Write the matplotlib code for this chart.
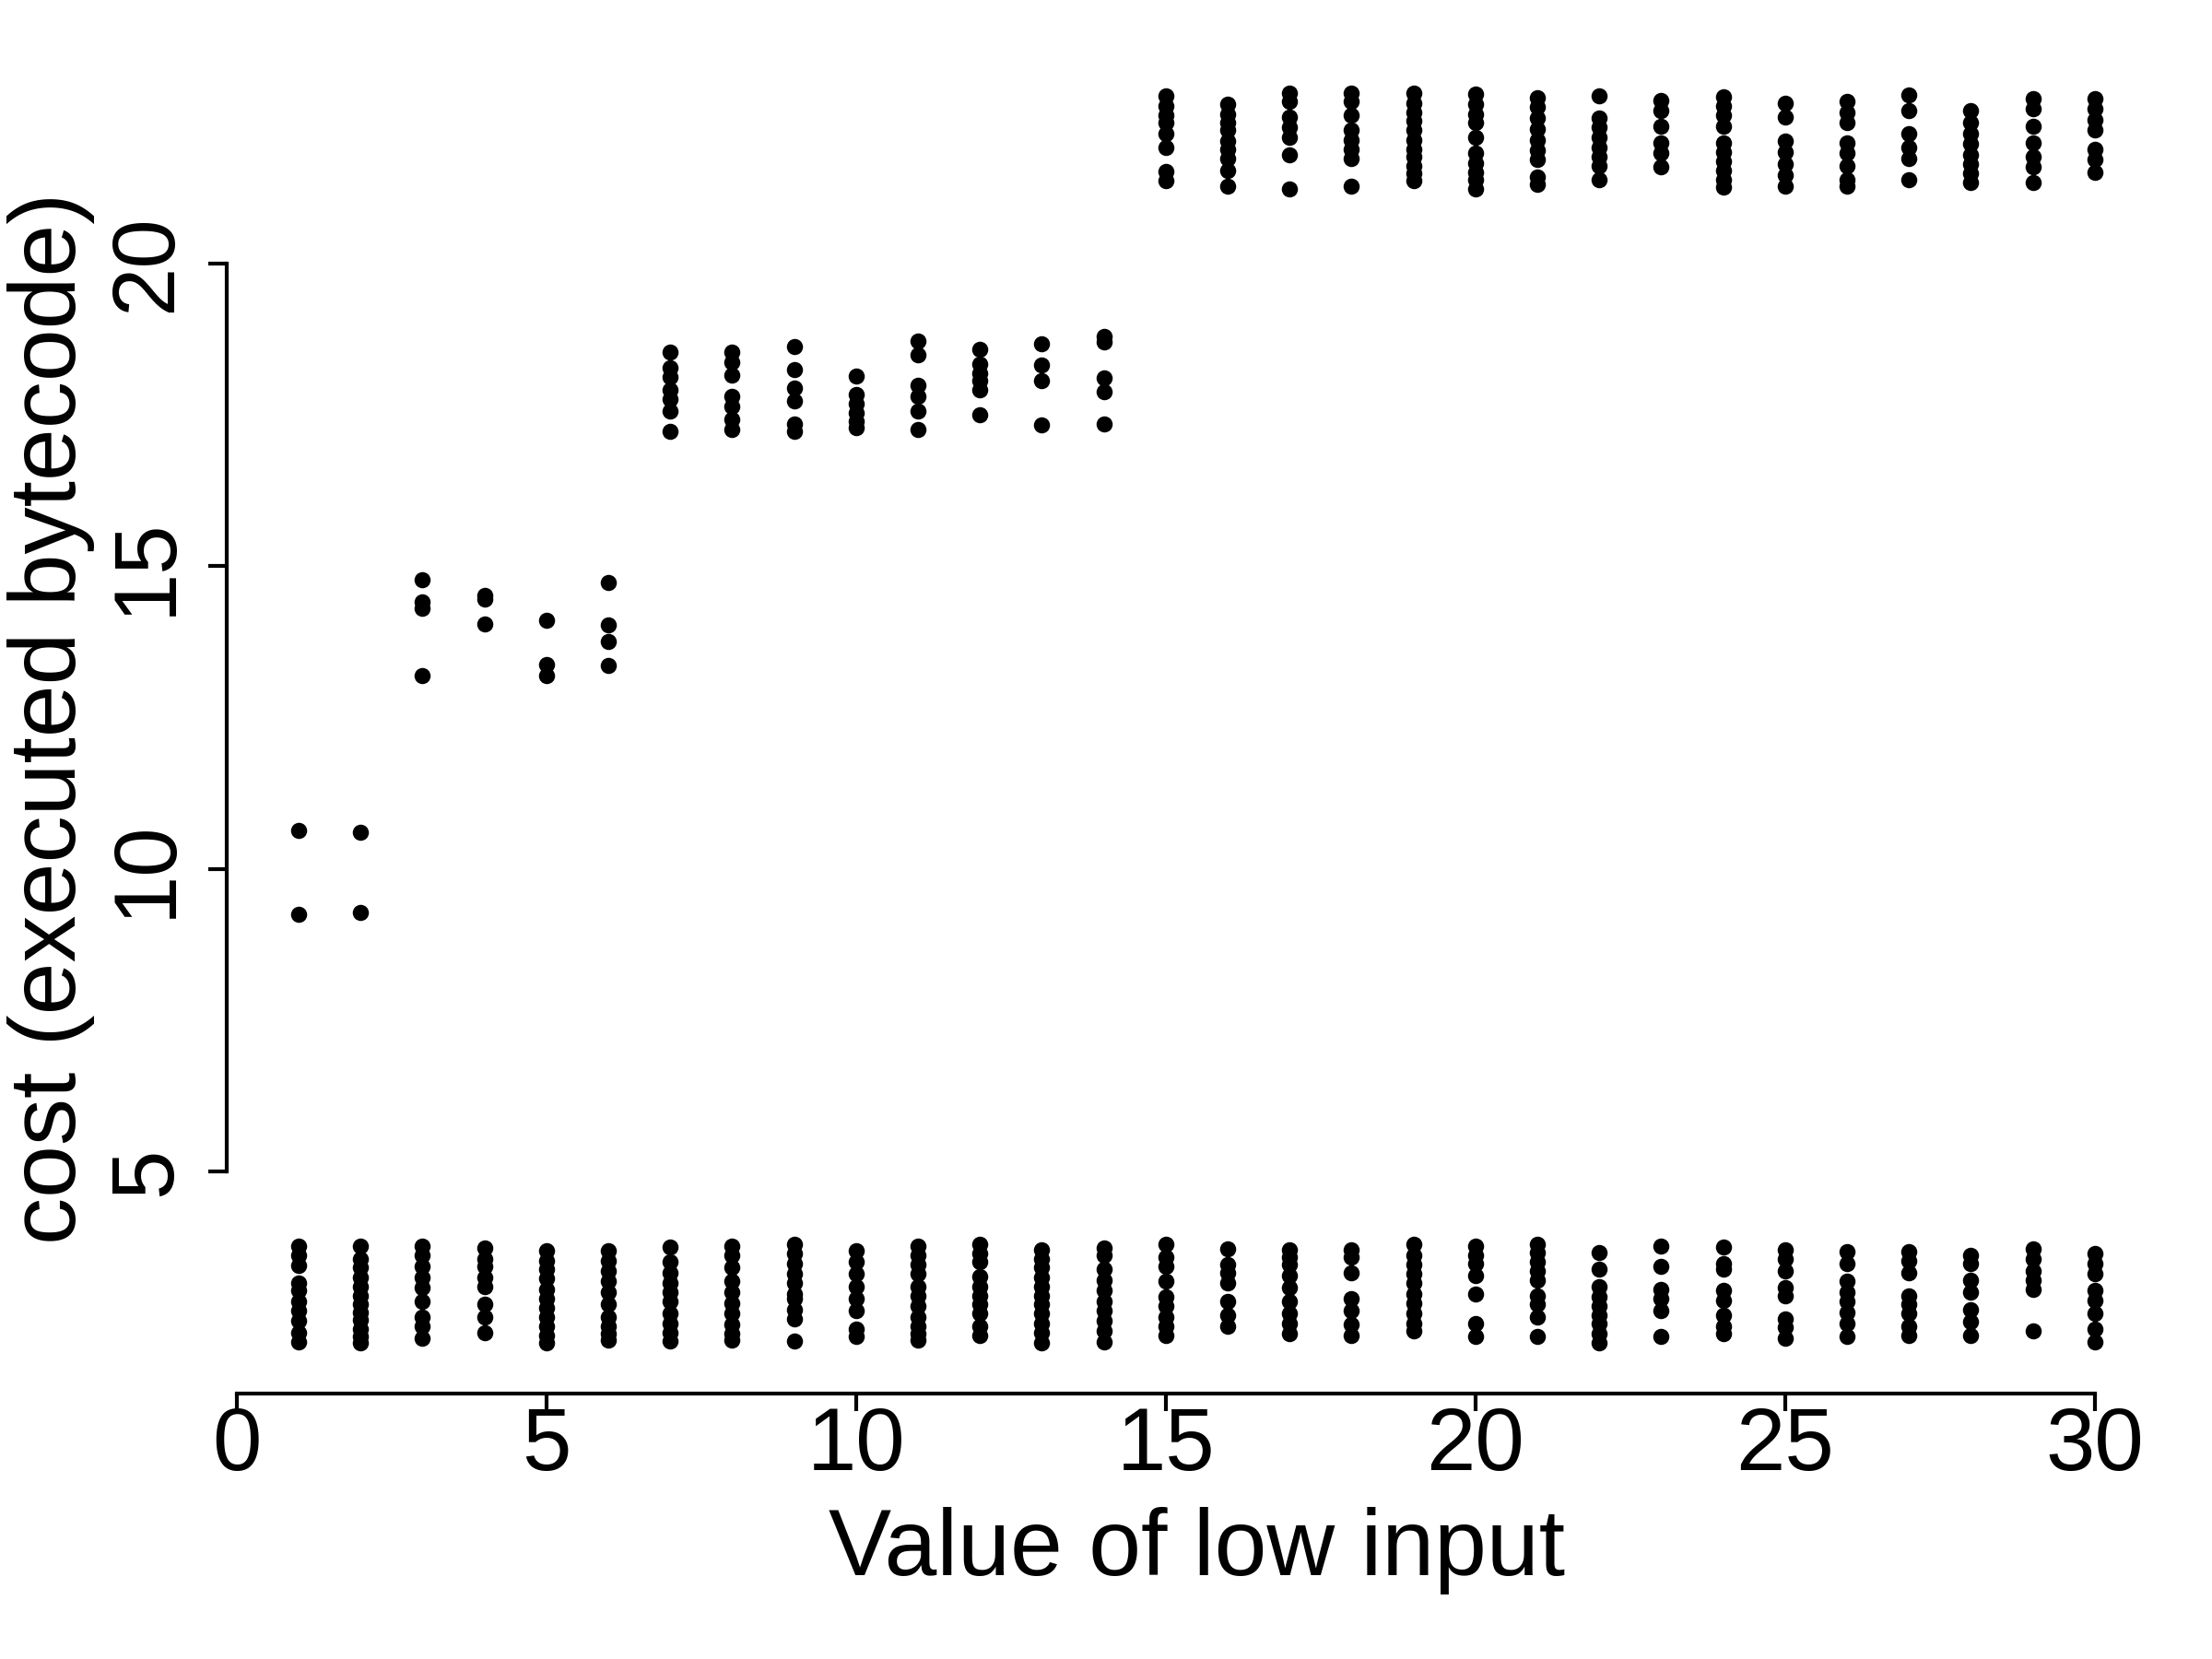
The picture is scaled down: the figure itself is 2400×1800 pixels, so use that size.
import matplotlib
matplotlib.use("Agg")
import matplotlib.pyplot as plt

plt.rcParams["font.family"] = ["Liberation Sans", "DejaVu Sans"]

# value of the low input (x)
low_input = list(range(1, 31))

# bottom band of costs, one list per low input value
cost_floor = [
    [3.76, 3.61, 3.44, 3.15, 3.03, 2.85, 2.70, 2.54, 2.34, 2.19],
    [3.76, 3.56, 3.41, 3.25, 3.10, 2.95, 2.80, 2.67, 2.55, 2.39, 2.27, 2.16],
    [3.76, 3.61, 3.43, 3.25, 3.08, 2.85, 2.60, 2.44, 2.24],
    [3.74, 3.56, 3.43, 3.25, 3.10, 2.80, 2.60, 2.34],
    [3.69, 3.53, 3.38, 3.23, 3.05, 2.90, 2.75, 2.60, 2.44, 2.29, 2.17],
    [3.69, 3.53, 3.36, 3.18, 3.00, 2.80, 2.60, 2.44, 2.32, 2.22],
    [3.75, 3.51, 3.33, 3.15, 3.00, 2.85, 2.65, 2.49, 2.34, 2.20],
    [3.77, 3.61, 3.42, 3.18, 3.00, 2.82, 2.65, 2.47, 2.32, 2.22],
    [3.79, 3.64, 3.48, 3.31, 3.15, 2.98, 2.90, 2.72, 2.57, 2.20],
    [3.69, 3.51, 3.31, 3.10, 2.90, 2.70, 2.39, 2.27],
    [3.76, 3.61, 3.46, 3.31, 3.10, 2.95, 2.77, 2.60, 2.44, 2.32, 2.22],
    [3.79, 3.64, 3.51, 3.26, 3.10, 2.95, 2.80, 2.65, 2.44, 2.29],
    [3.71, 3.56, 3.41, 3.25, 3.10, 2.95, 2.80, 2.65, 2.49, 2.34, 2.17],
    [3.74, 3.61, 3.38, 3.20, 3.03, 2.85, 2.70, 2.54, 2.37, 2.19],
    [3.79, 3.58, 3.43, 3.18, 2.93, 2.77, 2.60, 2.44, 2.29],
    [3.72, 3.46, 3.33, 3.15, 2.85, 2.62, 2.44],
    [3.71, 3.58, 3.46, 3.28, 3.08, 2.85, 2.65, 2.49, 2.32],
    [3.71, 3.58, 3.33, 2.90, 2.70, 2.47, 2.29],
    [3.79, 3.61, 3.46, 3.31, 3.15, 2.98, 2.82, 2.65, 2.49, 2.37],
    [3.76, 3.61, 3.48, 3.28, 2.98, 2.49, 2.28],
    [3.79, 3.66, 3.51, 3.36, 3.20, 2.95, 2.80, 2.60, 2.27],
    [3.66, 3.38, 3.10, 2.93, 2.77, 2.62, 2.49, 2.32, 2.17],
    [3.77, 3.43, 3.05, 2.90, 2.70, 2.27],
    [3.75, 3.48, 3.38, 3.03, 2.87, 2.62, 2.44, 2.32],
    [3.71, 3.56, 3.36, 3.08, 2.95, 2.57, 2.42, 2.24],
    [3.67, 3.48, 3.18, 3.00, 2.85, 2.67, 2.49, 2.27],
    [3.67, 3.53, 3.33, 2.95, 2.80, 2.65, 2.44, 2.29],
    [3.62, 3.48, 3.20, 3.00, 2.72, 2.52, 2.29],
    [3.72, 3.56, 3.36, 3.20, 3.05, 2.37],
    [3.65, 3.48, 3.31, 3.03, 2.87, 2.65, 2.39, 2.19],
]

# upper (stepped) band of costs, one list per low input value
cost_step = [
    [10.64, 9.24],
    [10.61, 9.28],
    [14.78, 14.41, 14.31, 13.19],
    [14.52, 14.45, 14.04],
    [14.10, 13.37, 13.19],
    [14.73, 14.03, 13.75, 13.36],
    [18.54, 18.27, 18.12, 17.91, 17.76, 17.56, 17.23],
    [18.54, 18.37, 18.16, 17.81, 17.63, 17.43, 17.25],
    [18.62, 18.24, 17.94, 17.73, 17.35, 17.23],
    [18.14, 17.83, 17.68, 17.53, 17.40, 17.28],
    [18.72, 18.49, 17.99, 17.81, 17.56, 17.26],
    [18.58, 18.34, 18.19, 18.06, 17.91, 17.50],
    [18.67, 18.32, 18.06, 17.33],
    [18.80, 18.70, 18.11, 17.88, 17.35],
    [22.77, 22.60, 22.45, 22.32, 22.14, 21.92, 21.52, 21.37],
    [22.63, 22.47, 22.32, 22.20, 22.02, 21.89, 21.74, 21.54, 21.28],
    [22.82, 22.67, 22.42, 22.25, 22.09, 21.79, 21.23],
    [22.82, 22.67, 22.45, 22.20, 22.04, 21.89, 21.74, 21.28],
    [22.82, 22.65, 22.50, 22.35, 22.20, 22.04, 21.89, 21.76, 21.61, 21.49, 21.36],
    [22.80, 22.63, 22.47, 22.32, 22.09, 21.82, 21.66, 21.51, 21.38, 21.23],
    [22.74, 22.58, 22.40, 22.22, 22.04, 21.87, 21.71, 21.43, 21.30],
    [22.77, 22.40, 22.25, 22.09, 21.92, 21.76, 21.61, 21.38],
    [22.69, 22.53, 22.26, 21.99, 21.82, 21.59],
    [22.75, 22.60, 22.45, 22.27, 21.99, 21.84, 21.69, 21.54, 21.38, 21.26],
    [22.65, 22.42, 22.02, 21.84, 21.64, 21.46, 21.28],
    [22.67, 22.50, 22.32, 21.99, 21.82, 21.61, 21.38, 21.28],
    [22.79, 22.53, 22.15, 21.92, 21.74, 21.38],
    [22.53, 22.32, 22.15, 21.97, 21.79, 21.64, 21.49, 21.33],
    [22.72, 22.55, 22.27, 21.99, 21.76, 21.59, 21.33],
    [22.72, 22.55, 22.37, 22.20, 21.89, 21.71, 21.51],
]

xs = []
ys = []
for x, floor, step in zip(low_input, cost_floor, cost_step):
    for y in floor + step:
        xs.append(x)
        ys.append(y)

fig = plt.figure(figsize=(8, 6), dpi=300)
ax = fig.add_axes([0.1025, 0.16, 0.877, 0.8144])

ax.plot(xs, ys, linestyle="none", marker="o", markersize=3.2, color="black")

ax.set_xlim(-0.16, 31.16)
ax.set_ylim(1.33, 23.65)

ax.spines["top"].set_visible(False)
ax.spines["right"].set_visible(False)
ax.spines["left"].set_bounds(5, 20)
ax.spines["bottom"].set_bounds(0, 30)
for s in ("left", "bottom"):
    ax.spines[s].set_linewidth(1.0)

ax.set_xticks([0, 5, 10, 15, 20, 25, 30])
ax.set_yticks([5, 10, 15, 20])
ax.tick_params(axis="x", length=4.5, width=1.0, labelsize=23, pad=-1.5)
ax.tick_params(axis="y", length=4.8, width=1.0, labelsize=23, pad=5, labelrotation=90)
for lab in ax.get_yticklabels():
    lab.set_va("center")

ax.set_xlabel("Value of low input", fontsize=24.5, labelpad=5)
ax.set_ylabel("cost (executed bytecode)", fontsize=24.5, labelpad=3)

fig.savefig("out.png", dpi=300)
